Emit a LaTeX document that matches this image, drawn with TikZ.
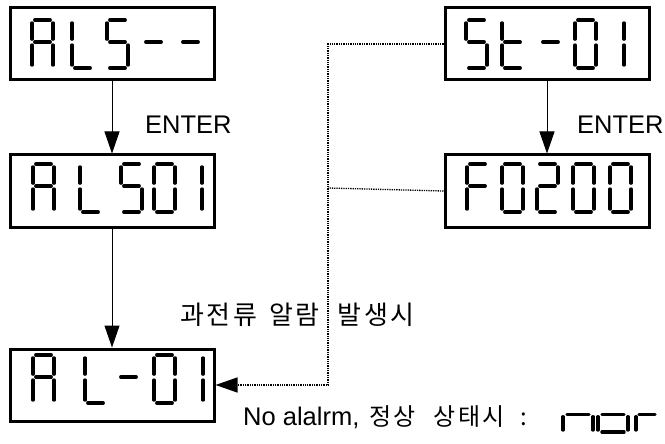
\documentclass[tikz,border=0pt]{standalone}
\usepackage{fontspec}
\setmainfont{Liberation Sans}
\newfontfamily\krfont[LetterSpace=10]{Noto Sans CJK KR}
\usepackage{tikz}
\usetikzlibrary{arrows.meta,positioning}

% seven segment digit: left x, top y, width, height, lit segments
\newcommand{\segdigit}[5]{%
  \begin{scope}[shift={(#1,#2)}, xscale=#3, yscale=#4]
    \coordinate (a1) at (0.13,0);    \coordinate (a2) at (0.87,0);
    \coordinate (b1) at (1,0.06);    \coordinate (b2) at (1,0.40);
    \coordinate (c1) at (1,0.52);    \coordinate (c2) at (1,0.94);
    \coordinate (d1) at (0.13,1);    \coordinate (d2) at (0.87,1);
    \coordinate (e1) at (0,0.52);    \coordinate (e2) at (0,0.94);
    \coordinate (f1) at (0,0.06);    \coordinate (f2) at (0,0.40);
    \coordinate (g1) at (0.13,0.46); \coordinate (g2) at (0.87,0.46);
    \foreach \s in {#5} \draw[segline] (\s1) -- (\s2);
  \end{scope}}

\begin{document}
\begin{tikzpicture}[
    x=1pt, y=-1pt,
    disp/.style={rectangle, draw, line width=3pt, minimum width=204pt, minimum height=72pt, inner sep=0pt},
    segline/.style={line width=3.2pt, line cap=round},
    flow/.style={-{Triangle[length=22pt,width=15pt]}, line width=1pt},
    link/.style={densely dotted, line width=1.3pt},
    lbl/.style={font=\fontsize{25.5}{30}\selectfont, anchor=west, inner sep=0pt},
    krlbl/.style={font=\fontsize{26}{30}\selectfont\krfont, anchor=west, inner sep=0pt}
]
\useasboundingbox (0,0) rectangle (665,444);

% Displays
\node[disp] at (112,44) (als) {};
\node[disp, below=72pt of als] (als01) {};
\node[disp, below=119pt of als01] (al01) {};
\node[disp, right=228pt of als] (st01) {};
\node[disp, below=72pt of st01] (f0200) {};

% Digits
\segdigit{32}{20}{21}{48}{a,b,c,e,f,g}
\segdigit{72}{20}{21}{48}{d,e,f}
\segdigit{107}{20}{21}{48}{a,f,g,c,d}
\segdigit{143}{20}{21}{48}{g}
\segdigit{180}{20}{21}{48}{g}

\segdigit{33}{164}{21}{48}{a,b,c,e,f,g}
\segdigit{80}{164}{21}{48}{d,e,f}
\segdigit{121}{164}{21}{48}{a,f,g,c,d}
\segdigit{154}{164}{21}{48}{a,b,c,d,e,f}
\segdigit{181}{164}{21}{48}{b,c}

\segdigit{33}{355}{21}{48}{a,b,c,e,f,g}
\segdigit{85}{355}{21}{48}{d,e,f}
\segdigit{118}{355}{21}{48}{g}
\segdigit{154}{355}{21}{48}{a,b,c,d,e,f}
\segdigit{182}{355}{21}{48}{b,c}

\segdigit{466}{20}{21}{48}{a,f,g,c,d}
\segdigit{502}{20}{21}{48}{d,e,f,g}
\segdigit{540}{20}{21}{48}{g}
\segdigit{575}{20}{21}{48}{a,b,c,d,e,f}
\segdigit{603}{20}{21}{48}{b,c}

\segdigit{467}{164}{21}{48}{a,e,f,g}
\segdigit{502}{164}{21}{48}{a,b,c,d,e,f}
\segdigit{537}{164}{21}{48}{a,b,g,e,d}
\segdigit{573}{164}{21}{48}{a,b,c,d,e,f}
\segdigit{610}{164}{21}{48}{a,b,c,d,e,f}

% Labels
\node[lbl] at (145,125) (enter1) {ENTER};
\node[lbl] at (577,125) (enter2) {ENTER};
\node[krlbl] at (180,315) (over) {과전류\hspace{12pt}알람\hspace{18pt}발생시};
\node[lbl] at (243,417) (normal) {No alalrm,\hspace{10pt}{\krfont\fontsize{24}{28}\selectfont 정상\hspace{18pt}상태시\hspace{16pt}:}};

% nor
\segdigit{563}{400}{30}{32}{c,e,g}
\segdigit{598}{400}{30}{32}{c,d,e,g}
\segdigit{636}{400}{22}{32}{e,g}

% Arrows
\coordinate (bend) at (328,188);
\draw[flow] (als) -- (als01);
\draw[flow] (als01) -- (al01);
\draw[flow] (st01) -- (f0200);
\draw[link] (f0200.west) -- (bend);
\draw[link, -{Triangle[length=22pt,width=15pt]}] (st01.west) -| (bend) |- (al01.east);
\end{tikzpicture}
\end{document}
